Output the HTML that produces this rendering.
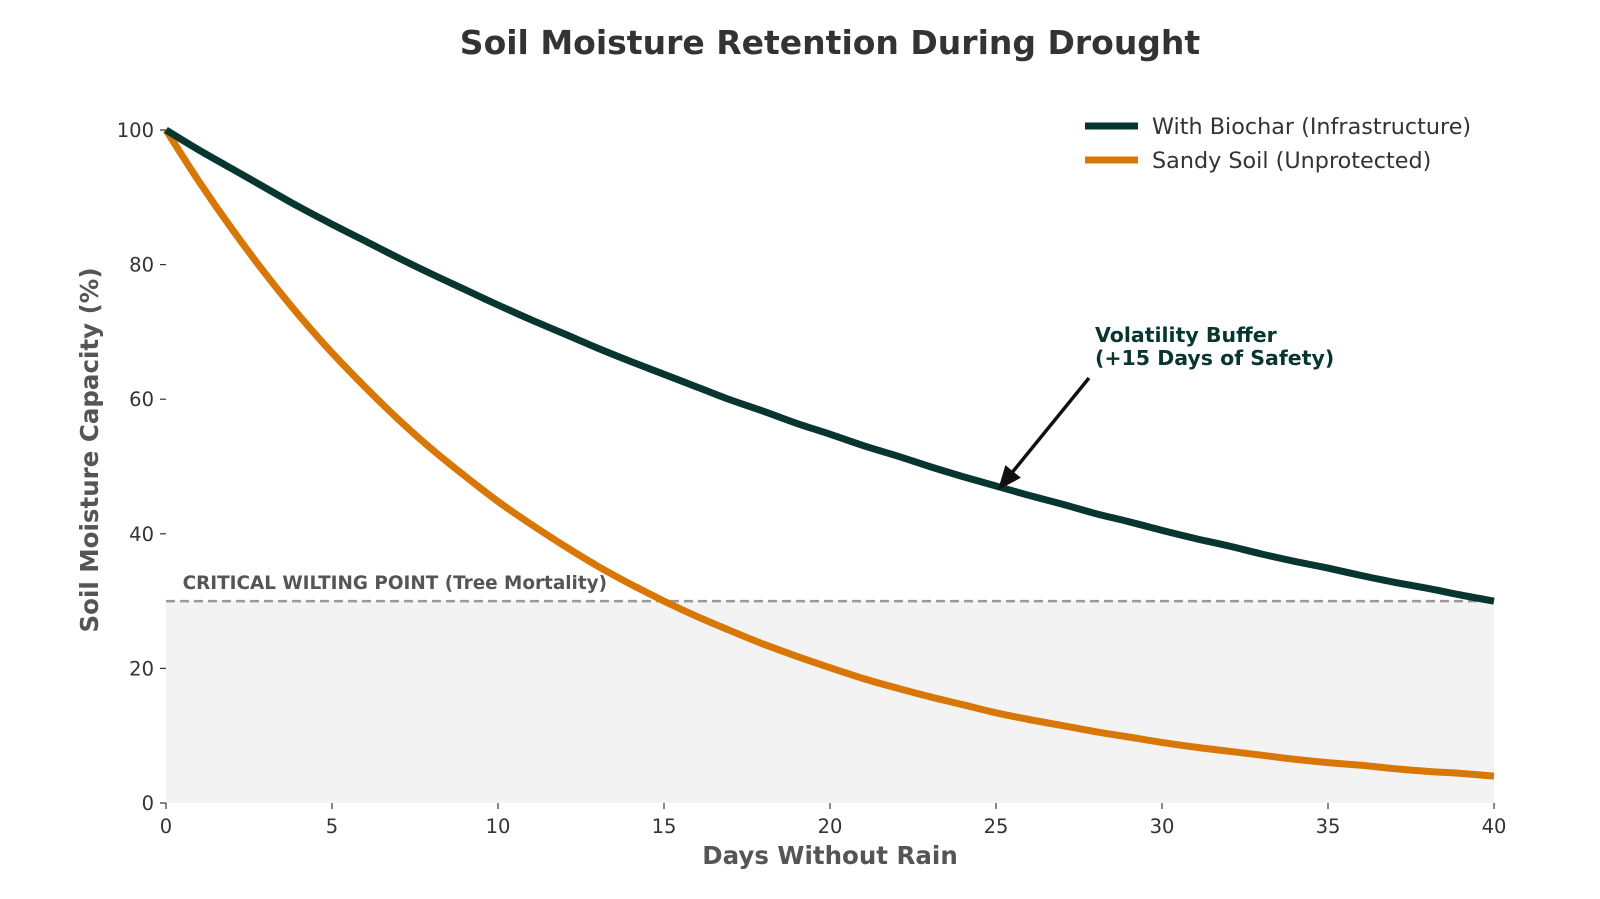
<!DOCTYPE html>
<html><head><meta charset="utf-8"><style>
body{margin:0;background:#fff;}
svg text{font-family:"DejaVu Sans","Liberation Sans",sans-serif;}
</style></head><body>
<svg id="chart" width="1600" height="894" xmlns="http://www.w3.org/2000/svg">
<text x="830" y="54" text-anchor="middle" font-size="33" font-weight="bold" fill="#333">Soil Moisture Retention During Drought</text>
<g id="plot"></g>
</svg>
<script>
const days=[];for(let i=0;i<=40;i++)days.push(i);
const biochar=[100,97.0,94.2,91.4,88.6,86.0,83.5,81.0,78.6,76.3,74.0,71.8,69.7,67.6,65.6,63.7,61.8,59.9,58.2,56.4,54.8,53.1,51.6,50.0,48.5,47.1,45.7,44.4,43.0,41.8,40.5,39.3,38.2,37.0,35.9,34.9,33.8,32.8,31.9,30.9,30.0];
const sandy=[100,92.3,85.2,78.6,72.5,66.9,61.8,57.0,52.6,48.6,44.8,41.4,38.2,35.2,32.5,30.0,27.7,25.6,23.6,21.8,20.1,18.5,17.1,15.8,14.6,13.4,12.4,11.5,10.6,9.8,9.0,8.3,7.7,7.1,6.5,6.0,5.6,5.1,4.7,4.4,4.0];
const xTicks=[0,5,10,15,20,25,30,35,40];
const yTicks=[0,20,40,60,80,100];
const wilting=30;
const annotDay=25, annotVal=46.5;

const X0=166,X1=1494,Y0=803,Y1=130;
const sx=v=>X0+(v-0)/(40-0)*(X1-X0);
const sy=v=>Y0-(v-0)/(100-0)*(Y0-Y1);
const g=document.getElementById('plot');
const NS='http://www.w3.org/2000/svg';
function mk(t,a,txt){const e=document.createElementNS(NS,t);for(const k in a)e.setAttribute(k,a[k]);if(txt!==undefined)e.textContent=txt;g.appendChild(e);return e;}

let e=mk('rect',{x:sx(0),y:sy(wilting),width:sx(40)-sx(0),height:sy(0)-sy(wilting),fill:'#f3f3f3'});


e=mk('line',{x1:sx(0),x2:sx(40),y1:sy(wilting),y2:sy(wilting),stroke:'#999','stroke-width':2.5,'stroke-dasharray':'9,5'});


e=mk('text',{x:sx(0.5),y:sy(wilting)-12,'font-size':18.4,'font-weight':'bold',fill:'#555'},'CRITICAL WILTING POINT (Tree Mortality)');



xTicks.forEach(t=>{
 let l=mk('line',{x1:sx(t),x2:sx(t),y1:Y0,y2:Y0+6,stroke:'#333','stroke-width':1.2});
 
 
 let tx=mk('text',{x:sx(t),y:Y0+30,'text-anchor':'middle','font-size':19.5,fill:'#333'},String(t));
 
 
});
yTicks.forEach(t=>{
 let l=mk('line',{x1:X0-6,x2:X0,y1:sy(t),y2:sy(t),stroke:'#333','stroke-width':1.2});
 
 
 let tx=mk('text',{x:X0-12,y:sy(t)+7,'text-anchor':'end','font-size':19.5,fill:'#333'},String(t));
 
 
});
e=mk('text',{x:830,y:864,'text-anchor':'middle','font-size':24.5,'font-weight':'bold',fill:'#555'},'Days Without Rain');


e=mk('text',{x:0,y:0,transform:'translate(98,450) rotate(-90)','text-anchor':'middle','font-size':24.5,'font-weight':'bold',fill:'#555'},'Soil Moisture Capacity (%)');



function line(vals,color,name){
 const pts=vals.map((v,i)=>[sx(days[i]),sy(v)]);
 let d='M'+pts[0][0].toFixed(1)+','+pts[0][1].toFixed(1);
 for(let i=0;i<pts.length-1;i++){
  const p0=pts[Math.max(0,i-1)],p1=pts[i],p2=pts[i+1],p3=pts[Math.min(pts.length-1,i+2)];
  const c1=[p1[0]+(p2[0]-p0[0])/6,p1[1]+(p2[1]-p0[1])/6];
  const c2=[p2[0]-(p3[0]-p1[0])/6,p2[1]-(p3[1]-p1[1])/6];
  d+=' C'+c1.map(n=>n.toFixed(1)).join(',')+' '+c2.map(n=>n.toFixed(1)).join(',')+' '+p2.map(n=>n.toFixed(1)).join(',');
 }
 const p=mk('path',{d:d,fill:'none',stroke:color,'stroke-width':7,'stroke-linejoin':'round'});
 
 
}
line(sandy,'#d97706','sandy-soil-line');
line(biochar,'#06362f','biochar-line');

// annotation
const ax=sx(annotDay)+2,ay=sy(annotVal);
const bx=1089,by=378;
e=mk('line',{x1:bx,y1:by,x2:ax+8,y2:ay-10,stroke:'#111','stroke-width':3.5});


const ang=Math.atan2(ay-by,ax-bx);
const hl=24,hw=10;
const p1=[ax-hl*Math.cos(ang)+hw*Math.sin(ang),ay-hl*Math.sin(ang)-hw*Math.cos(ang)];
const p2=[ax-hl*Math.cos(ang)-hw*Math.sin(ang),ay-hl*Math.sin(ang)+hw*Math.cos(ang)];
e=mk('polygon',{points:ax+','+ay+' '+p1.join(',')+' '+p2.join(','),fill:'#111'});


e=mk('text',{x:1095,y:342,'font-size':20.5,'font-weight':'bold',fill:'#06362f'},'Volatility Buffer');


e=mk('text',{x:1095,y:365,'font-size':20.5,'font-weight':'bold',fill:'#06362f'},'(+15 Days of Safety)');



// legend
[['With Biochar (Infrastructure)','#06362f',126],['Sandy Soil (Unprotected)','#d97706',160]].forEach(([lbl,c,y])=>{
 let l=mk('line',{x1:1085,x2:1138,y1:y,y2:y,stroke:c,'stroke-width':7});
 
 
 let t=mk('text',{x:1152,y:y+8,'font-size':22.3,fill:'#333'},lbl);
 
 
});
</script>
</body></html>
